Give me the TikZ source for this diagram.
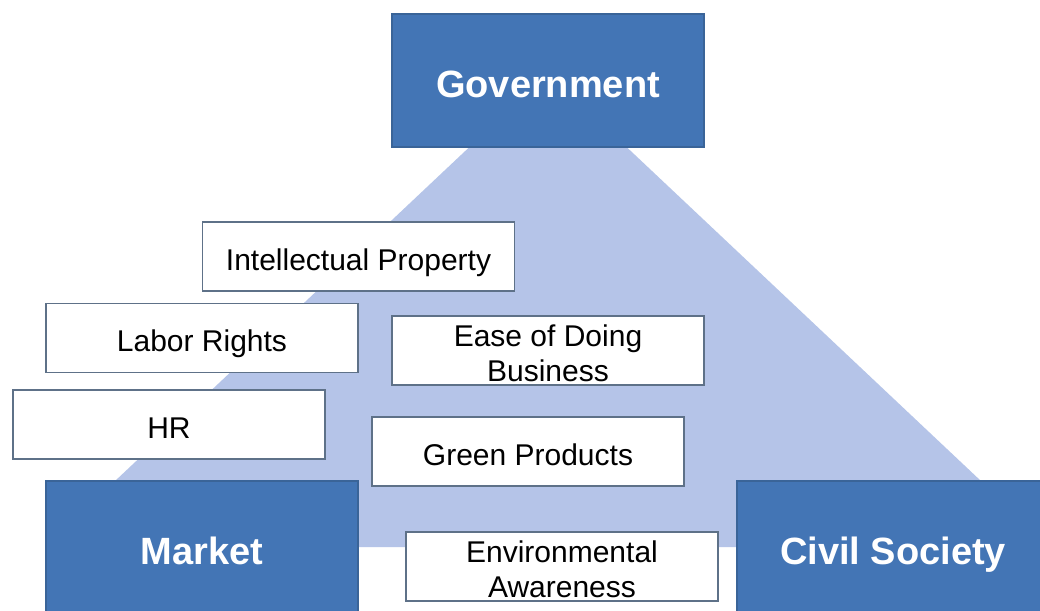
\documentclass[tikz,border=0pt]{standalone}
\usepackage{fontspec}
\setmainfont{Liberation Sans}
\usepackage{tikz}

\definecolor{actorblue}{HTML}{4375B5}
\definecolor{actorline}{HTML}{3A6498}
\definecolor{areablue}{HTML}{B5C4E8}
\definecolor{boxline}{HTML}{5E7188}

\tikzset{
  actor/.style={draw=actorline, line width=1.2pt, fill=actorblue, rectangle, inner sep=0pt,
    minimum width=312pt, minimum height=133pt, text height=33pt, text depth=0pt,
    text=white, font=\fontsize{38}{44}\selectfont\bfseries},
  issue/.style={draw=boxline, line width=1.2pt, fill=white, rectangle, inner sep=0pt,
    minimum width=312pt, minimum height=69pt, text height=27pt, text depth=0pt,
    align=center, font=\fontsize{30}{35}\selectfont},
  issue2/.style={issue, text height=62pt}
}

\begin{document}
\begin{tikzpicture}[x=1pt, y=-1pt]
    \clip (0,0) rectangle (1040,610);
    \fill[white] (0,0) rectangle (1040,610);

    % Shared area between the three actors
    \fill[areablue] (548,73) -- (1051,547) -- (45,547) -- cycle;

    % Actors
    \node[actor] (govt) at (548, 80.5) {Government};
    \node[actor] (market) at (202, 547.5) {Market};
    \node[actor] (civil) at (893, 547.5) {Civil Society};

    % Issues
    \node[issue] (ip) at (358.5, 256.5) {Intellectual Property};
    \node[issue] (labor) at (202, 338) {Labor Rights};
    \node[issue2] (ease) at (548, 350.5) {Ease of Doing\\Business};
    \node[issue] (hr) at (169, 424.5) {HR};
    \node[issue] (green) at (528, 451.5) {Green Products};
    \node[issue2] (env) at (562, 566.5) {Environmental\\Awareness};
\end{tikzpicture}
\end{document}
